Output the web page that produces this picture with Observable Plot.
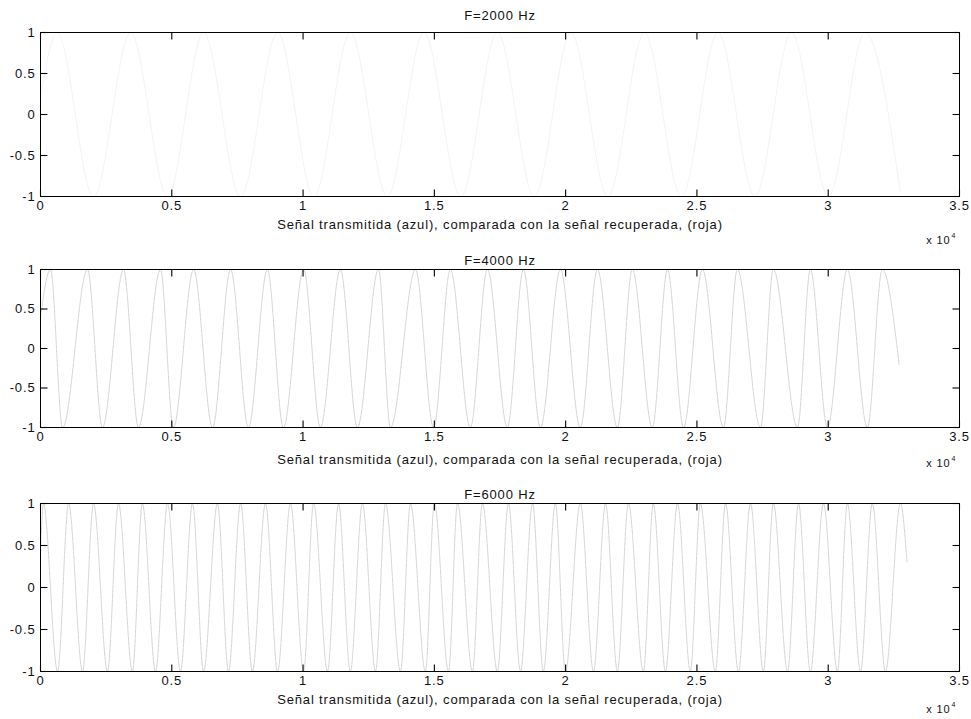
<!DOCTYPE html>
<html>
<head>
<meta charset="utf-8">
<script src="https://cdn.jsdelivr.net/npm/d3@7"></script>
<script src="https://cdn.jsdelivr.net/npm/@observablehq/plot@0.6"></script>
<style>
  html, body { margin: 0; padding: 0; background: #fff; }
  #chart { width: 971px; height: 719px; overflow: hidden; }
  #chart svg { display: block; }
  #chart svg text { letter-spacing: 0.85px; }
</style>
</head>
<body>
<div id="chart"></div>
<script>
// ---- data ----
const titles = ["F=2000 Hz", "F=4000 Hz", "F=6000 Hz"];
const xLabel = "Señal transmitida (azul), comparada con la señal recuperada, (roja)";
const xTickValues = [0, 5000, 10000, 15000, 20000, 25000, 30000, 35000];
const xTickLabels = ["0", "0.5", "1", "1.5", "2", "2.5", "3", "3.5"];
const yTickValues = [-1, -0.5, 0, 0.5, 1];
const yTickLabels = ["-1", "-0.5", "0", "0.5", "1"];
const xExponent = "4";

// F=2000 Hz: sample index of each turning point and its value
const x2000 = [0, 630, 2020, 3430, 4840, 6210, 7620, 9030, 10410, 11800, 13210, 14600, 16010, 17400, 18810, 20200, 21610, 23000, 24410, 25800, 27210, 28600, 30010, 31400, 32750];
const y2000 = [0.2, 1, -1, 1, -1, 1, -1, 1, -1, 1, -1, 1, -1, 1, -1, 1, -1, 1, -1, 1, -1, 1, -1, 1, -0.95];

// F=4000 Hz
const x4000 = [0, 380, 840, 1790, 2360, 3160, 3730, 4570, 5060, 5830, 6550, 7240, 7920, 8640, 9250, 10020, 10660, 11420, 12070, 12870, 13330, 14280, 14970, 15610, 16370, 17020, 17780, 18390, 19040, 19800, 20560, 21210, 21970, 22540, 23300, 23880, 24490, 25210, 26010, 26540, 27420, 27910, 28830, 29320, 29970, 30730, 31490, 32060, 32700];
const y4000 = [0.4, 1, -1, 1, -1, 1, -1, 1, -1, 1, -1, 1, -1, 1, -1, 1, -1, 1, -1, 1, -1, 1, -1, 1, -1, 1, -1, 1, -1, 1, -1, 1, -1, 1, -1, 1, -1, 1, -1, 1, -1, 1, -1, 1, -1, 1, -1, 1, -0.2];

// F=6000 Hz
const x6000 = [0, 110, 650, 1070, 1600, 2020, 2550, 2970, 3500, 3880, 4380, 4840, 5330, 5790, 6210, 6740, 7160, 7620, 8070, 8570, 9030, 9520, 10020, 10400, 10930, 11350, 11800, 12260, 12760, 13140, 13710, 14090, 14660, 15000, 15540, 15880, 16450, 16830, 17400, 17820, 18280, 18740, 19150, 19610, 19990, 20560, 21060, 21520, 21970, 22390, 22960, 23340, 23800, 24260, 24750, 25130, 25700, 26090, 26580, 27040, 27530, 27910, 28450, 28870, 29320, 29820, 30350, 30730, 31230, 31680, 32180, 32750, 33000];
const y6000 = [0.4, 1, -1, 1, -1, 1, -1, 1, -1, 1, -1, 1, -1, 1, -1, 1, -1, 1, -1, 1, -1, 1, -1, 1, -1, 1, -1, 1, -1, 1, -1, 1, -1, 1, -1, 1, -1, 1, -1, 1, -1, 1, -1, 1, -1, 1, -1, 1, -1, 1, -1, 1, -1, 1, -1, 1, -1, 1, -1, 1, -1, 1, -1, 1, -1, 1, -1, 1, -1, 1, -1, 1, 0.3];

// ---- layout ----
const FONT = "'Liberation Sans', Arial, Helvetica, sans-serif";
const W = 971, ML = 40, MR = 12;
const X_DOMAIN = [0, 35000], Y_DOMAIN = [-1, 1];
const panels = [
  {title: titles[0], xs: x2000, ys: y2000, color: "#ebebeb", height: 248, mt: 32, mb: 52, titleDy: -22, labelDy: 32, expDy: 47},
  {title: titles[1], xs: x4000, ys: y4000, color: "#bdbdbd", height: 232, mt: 21, mb: 53, titleDy: -14, labelDy: 36, expDy: 39},
  {title: titles[2], xs: x6000, ys: y6000, color: "#bdbdbd", height: 239, mt: 23, mb: 48, titleDy: -14, labelDy: 32, expDy: 41}
];
const TICK = 7; // tick length in pixels

const root = document.getElementById("chart");
for (const p of panels) {
  const data = p.xs.map((x, i) => ({x, y: p.ys[i]}));
  const frameW = W - ML - MR;
  const frameH = p.height - p.mt - p.mb;
  // tick length converted to data units of each scale
  const tx = (X_DOMAIN[1] - X_DOMAIN[0]) * TICK / frameW;
  const ty = (Y_DOMAIN[1] - Y_DOMAIN[0]) * TICK / frameH;
  const tickStyle = {stroke: "#000", strokeWidth: 1.1};
  const chart = Plot.plot({
    width: W,
    height: p.height,
    marginLeft: ML,
    marginRight: MR,
    marginTop: p.mt,
    marginBottom: p.mb,
    style: {fontFamily: FONT, fontSize: "13px", color: "#111", background: "#fff"},
    x: {domain: X_DOMAIN},
    y: {domain: Y_DOMAIN},
    marks: [
      Plot.line(data, {x: "x", y: "y", stroke: p.color, strokeWidth: 0.7, curve: "monotone-x", strokeDasharray: "1.5 1"}),
      // inward tick marks on all four sides
      Plot.link(xTickValues, {x1: (d) => d, x2: (d) => d, y1: Y_DOMAIN[0], y2: Y_DOMAIN[0] + ty, ...tickStyle}),
      Plot.link(xTickValues, {x1: (d) => d, x2: (d) => d, y1: Y_DOMAIN[1], y2: Y_DOMAIN[1] - ty, ...tickStyle}),
      Plot.link(yTickValues, {y1: (d) => d, y2: (d) => d, x1: X_DOMAIN[0], x2: X_DOMAIN[0] + tx, ...tickStyle}),
      Plot.link(yTickValues, {y1: (d) => d, y2: (d) => d, x1: X_DOMAIN[1], x2: X_DOMAIN[1] - tx, ...tickStyle}),
      Plot.frame({stroke: "#000", strokeWidth: 1}),
      // tick labels
      Plot.axisX({anchor: "bottom", ticks: xTickValues, tickSize: 0, tickPadding: 4, tickFormat: (d) => xTickLabels[xTickValues.indexOf(d)], fontSize: 13, label: null}),
      Plot.axisY({anchor: "left", ticks: yTickValues, tickSize: 0, tickPadding: 5, tickFormat: (d) => yTickLabels[yTickValues.indexOf(d)], fontSize: 13, label: null}),
      // title, x label, exponent
      Plot.text([p.title], {frameAnchor: "top", dy: p.titleDy, fontSize: 13, fill: "#111"}),
      Plot.text([xLabel], {frameAnchor: "bottom", dy: p.labelDy, fontSize: 13, fill: "#111"}),
      Plot.text(["x 10"], {frameAnchor: "bottom-right", textAnchor: "end", dx: -9, dy: p.expDy, fontSize: 11, fill: "#111"}),
      Plot.text([xExponent], {frameAnchor: "bottom-right", textAnchor: "start", dx: -8, dy: p.expDy - 6, fontSize: 7, fill: "#111"})
    ]
  });
  root.appendChild(chart);
}
</script>
</body>
</html>
